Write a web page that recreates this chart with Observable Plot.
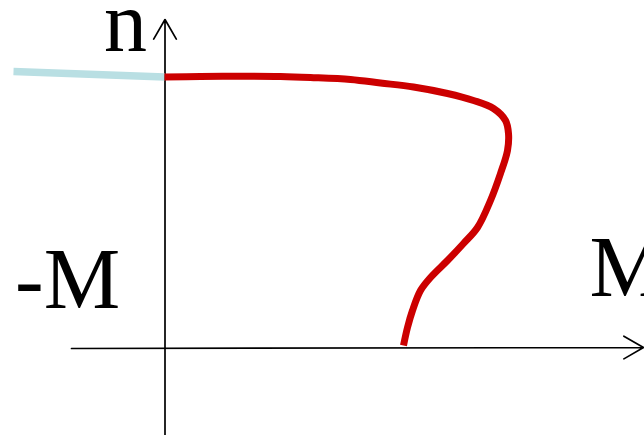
<!DOCTYPE html>
<html>
<head>
<meta charset="utf-8">
<script src="https://cdn.jsdelivr.net/npm/d3@7"></script>
<script src="https://cdn.jsdelivr.net/npm/@observablehq/plot@0.6"></script>
<style>
  html, body { margin: 0; padding: 0; background: #fff; overflow: hidden; }
  #chart svg { display: block; overflow: hidden; }
</style>
</head>
<body>
<div id="chart"></div>
<script>
// Interaction curve: axial force n against bending moment M (chart units)
const negM = [-1.51, 0];
const negN = [2.77, 2.715];

const posM = [0, 0.36, 0.79, 1.16, 1.46, 1.86, 2.16, 2.49, 2.83, 3.09, 3.29, 3.41, 3.44, 3.43, 3.36, 3.26, 3.13, 2.99, 2.83, 2.66, 2.56, 2.48, 2.43, 2.39];
const posN = [2.715, 2.72, 2.723, 2.72, 2.71, 2.69, 2.655, 2.615, 2.55, 2.48, 2.40, 2.28, 2.15, 1.98, 1.75, 1.48, 1.21, 1.05, 0.88, 0.71, 0.58, 0.38, 0.21, 0.03];

// Axis extents and label positions
const axes = [
  {x1: 0.005, y1: -0.88, x2: 0.005, y2: 3.29},
  {x1: -0.93, y1: 0, x2: 4.79, y2: 0.01}
];
const labels = [
  {text: "n", x: -0.605, y: 2.98},
  {text: "-M", x: -1.494, y: 0.41},
  {text: "M", x: 4.25, y: 0.525}
];

const negBranch = negM.map((m, i) => ({M: m, n: negN[i]}));
const posBranch = posM.map((m, i) => ({M: m, n: posN[i]}));

const chart = Plot.plot({
  width: 644,
  height: 435,
  margin: 0,
  x: {domain: [-1.64, 4.80], axis: null},
  y: {domain: [-0.87, 3.48], axis: null},
  marks: [
    Plot.arrow(axes, {
      x1: "x1", y1: "y1", x2: "x2", y2: "y2",
      stroke: "#000", strokeWidth: 1.7, headLength: 20, headAngle: 60
    }),
    Plot.line(negBranch, {
      x: "M", y: "n", stroke: "#b9dfe3", strokeWidth: 7.5, strokeLinecap: "butt"
    }),
    Plot.line(posBranch, {
      x: "M", y: "n", curve: "catmull-rom",
      stroke: "#cc0000", strokeWidth: 7, strokeLinecap: "butt", strokeLinejoin: "round"
    }),
    Plot.text(labels, {
      x: "x", y: "y", text: "text",
      textAnchor: "start", lineAnchor: "bottom",
      fontFamily: "Liberation Serif", fontSize: 86, fill: "#000"
    })
  ]
});

document.getElementById("chart").append(chart);
</script>
</body>
</html>
